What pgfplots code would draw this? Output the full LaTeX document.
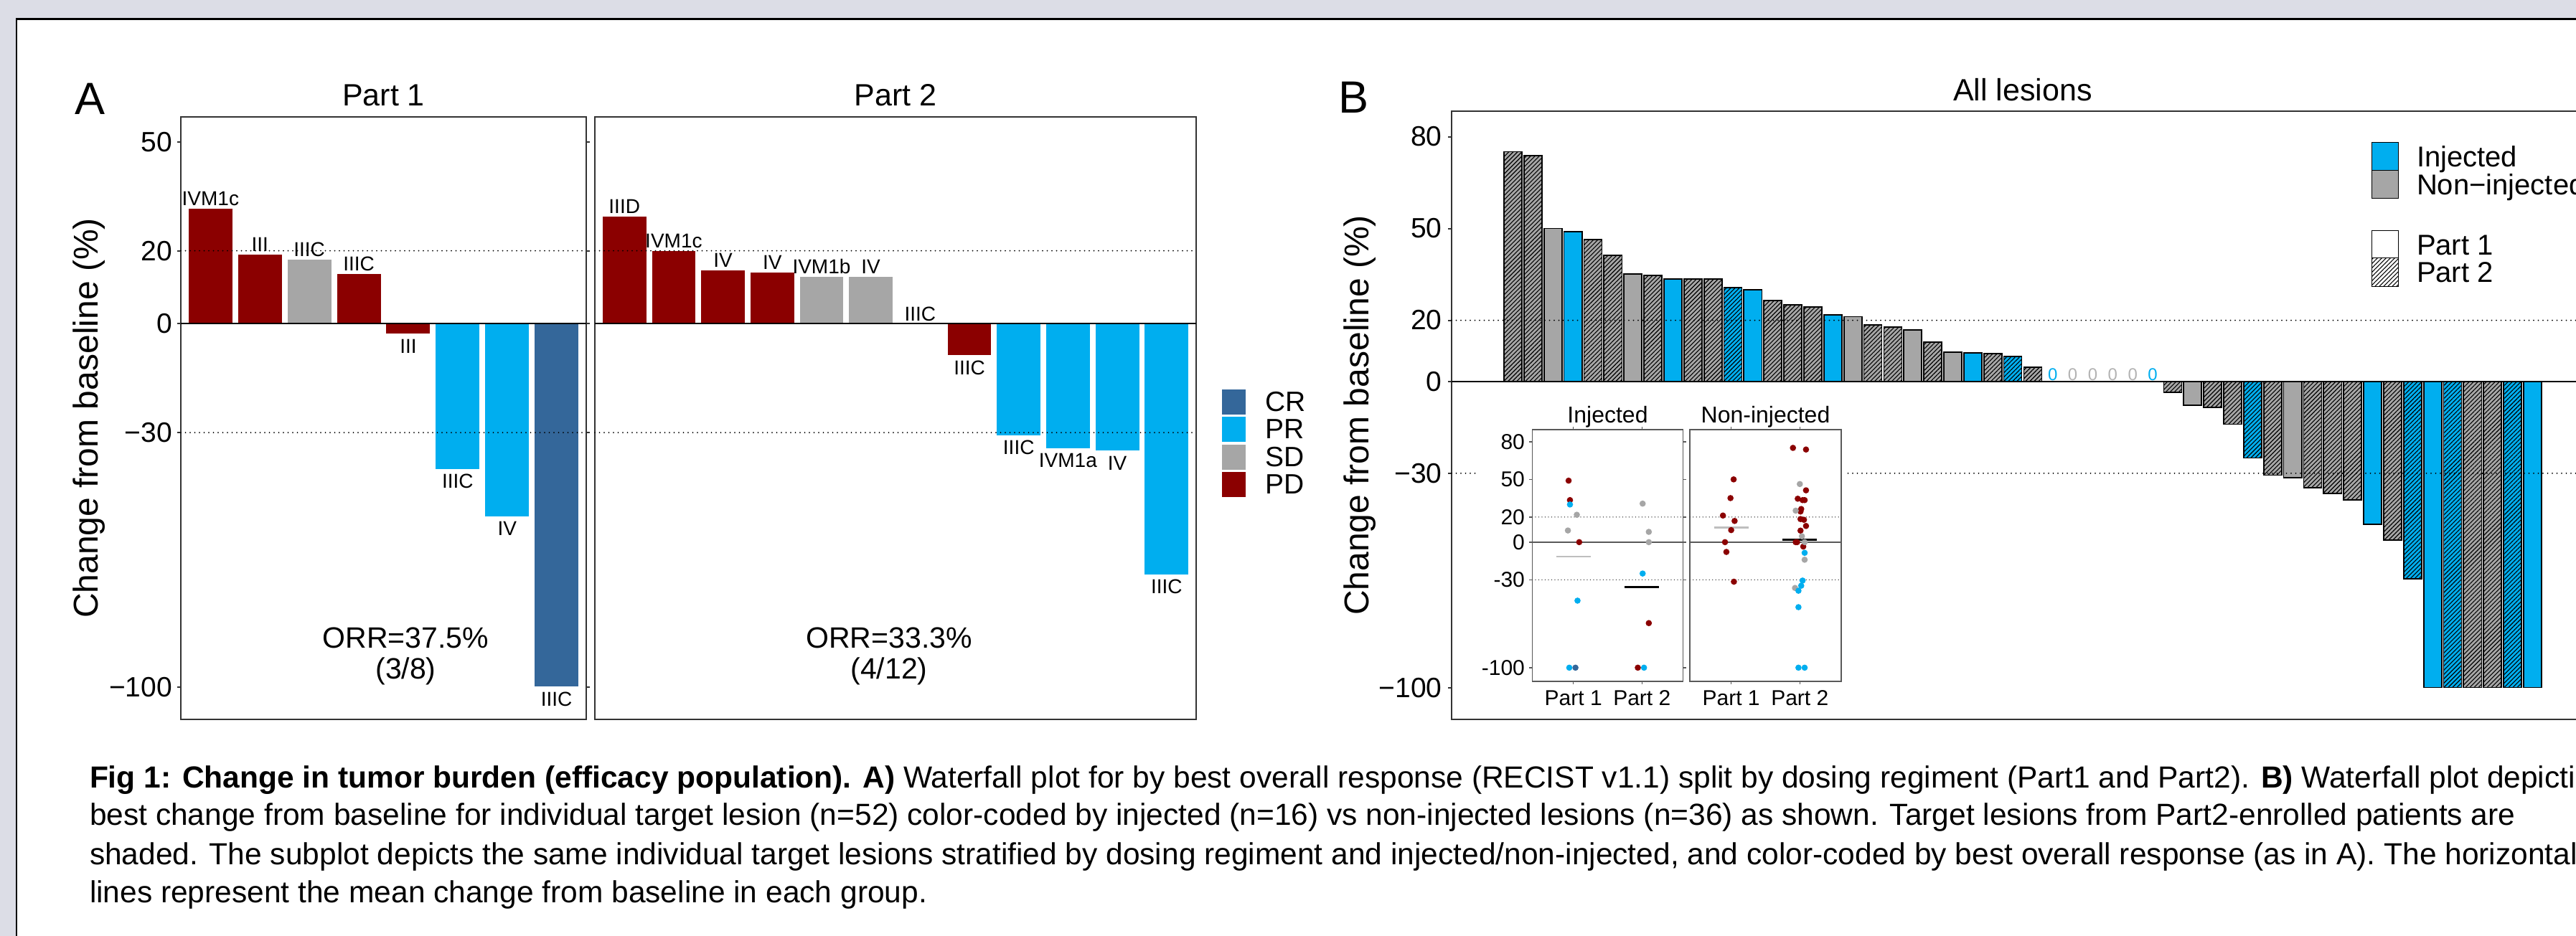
\documentclass[border=0pt]{standalone}
\usepackage{fontspec}
\setmainfont{Liberation Sans}
\usepackage{pgfplots}
\pgfplotsset{compat=1.18}
\usetikzlibrary{patterns.meta}

\definecolor{bgl}{HTML}{DCDDE6}
\definecolor{cPD}{HTML}{8B0000}
\definecolor{cSD}{HTML}{A6A6A6}
\definecolor{cPR}{HTML}{00AEEF}
\definecolor{cCR}{HTML}{34679A}
\definecolor{frm}{HTML}{333333}
\definecolor{ifrm}{HTML}{595959}
\definecolor{zgrey}{HTML}{B3B3B3}
\definecolor{mgrey}{HTML}{BEBEBE}

\newcommand{\fs}[1]{\fontsize{#1pt}{#1pt}\selectfont}

\pgfplotsset{
  /pgf/number format/assume math mode=true,
  common/.style={
    scale only axis, anchor=south west, clip=false,
    axis line style={draw=frm, line width=0.4pt},
    tick align=outside, major tick length=1pt,
    tick style={draw=frm, line width=0.4pt},
    xtick=\empty,
  },
  inset/.style={
    scale only axis, anchor=south west, clip=false,
    xmin=0.4, xmax=2.6, ymin=-110.9, ymax=89.5,
    xtick={1,2}, xticklabels={Part 1,Part 2},
    axis line style={draw=ifrm, line width=0.35pt},
    tick align=outside, major tick length=0.8pt,
    tick style={draw=ifrm, line width=0.3pt},
    xticklabel style={font=\fs{6}, inner sep=0pt, yshift=-1.5pt},
    yticklabel style={font=\fs{6}, inner sep=0pt, xshift=-1.1pt},
  },
  abar/.style={ybar, bar width=0.9, bar shift=0pt, draw=white, line width=0.2pt},
  bbar/.style={ybar, bar width=0.9, bar shift=0pt, draw=black, line width=0.35pt},
  hatch/.style={postaction={pattern={Lines[angle=45,distance=0.85pt,line width=0.22pt]}, pattern color=black}},
  dotl/.style={black, line width=0.4pt, dash pattern=on 0pt off 1.3pt, line cap=round},
  idot/.style={black!75, line width=0.3pt, dash pattern=on 0pt off 0.9pt, line cap=round},
  zl/.style={black, line width=0.45pt},
  pts/.style={only marks, mark=*, mark size=0.65pt},
}
\tikzset{
  labp/.style={anchor=base, font=\fs{5.6}, inner sep=0pt, yshift=0.8pt},
  labn/.style={anchor=north, font=\fs{5.6}, inner sep=0pt, yshift=-1.2pt},
  orr/.style={anchor=base, font=\fs{8.2}, inner sep=0pt},
  zlab/.style={anchor=base, font=\fs{4.8}, inner sep=0pt, yshift=0.3pt},
  captxt/.style={anchor=base west, inner sep=0pt, font=\fs{8.5}},
}

\begin{document}
\begin{tikzpicture}
\useasboundingbox (0,0) rectangle (718pt,261pt);
\clip (0,0) rectangle (718pt,261pt);
\fill[bgl] (0,0) rectangle (718pt,261pt);
\fill[white] (4.56pt,-5pt) rectangle (730pt,255.7pt);
\draw[black, line width=0.46pt] (4.56pt,-5pt) -- (4.56pt,255.7pt) -- (730pt,255.7pt);

% panel letters and titles
\node[anchor=base west, inner sep=0pt, font=\fs{12.6}] at (20.6pt,229pt) {A};
\node[anchor=base west, inner sep=0pt, font=\fs{12.6}] at (372.8pt,229.4pt) {B};
\node[anchor=base, inner sep=0pt, font=\fs{8.6}] at (106.9pt,231.4pt) {Part 1};
\node[anchor=base, inner sep=0pt, font=\fs{8.6}] at (249.6pt,231.4pt) {Part 2};
\node[anchor=base, inner sep=0pt, font=\fs{8.6}] at (563.8pt,232.8pt) {All lesions};
\node[anchor=base, rotate=90, inner sep=0pt, font=\fs{9.6}] at (27.2pt,144.4pt) {Change from baseline (\%)};
\node[anchor=base, rotate=90, inner sep=0pt, font=\fs{9.6}] at (381.4pt,145.2pt) {Change from baseline (\%)};

% ---------------- Panel A, Part 1
\begin{axis}[common, at={(50.4pt,60.4pt)}, width=113pt, height=168.06pt,
  xmin=0.4, xmax=8.6, ymin=-108.9, ymax=56.9,
  ytick={-100,-30,0,20,50}, yticklabels={−100,−30,0,20,50},
  yticklabel style={font=\fs{7.8}, inner sep=0pt, xshift=-1.2pt}]
\addplot[abar, fill=cPD] coordinates {(1,31.6) (2,19.0) (4,13.8) (5,-2.9)};
\addplot[abar, fill=cSD] coordinates {(3,17.6)};
\addplot[abar, fill=cPR] coordinates {(6,-40.1) (7,-53.2)};
\addplot[abar, fill=cCR] coordinates {(8,-100)};
\addplot[dotl] coordinates {(0.4,20) (8.6,20)};
\addplot[dotl] coordinates {(0.4,-30) (8.6,-30)};
\addplot[zl] coordinates {(0.4,0) (8.6,0)};
\node[labp] at (axis cs:1,31.6) {IVM1c};
\node[labp] at (axis cs:2,19.0) {III};
\node[labp] at (axis cs:3,17.6) {IIIC};
\node[labp] at (axis cs:4,13.8) {IIIC};
\node[labn] at (axis cs:5,-2.9) {III};
\node[labn] at (axis cs:6,-40.1) {IIIC};
\node[labn] at (axis cs:7,-53.2) {IV};
\node[labn] at (axis cs:8,-100) {IIIC};
\node[orr] at (axis cs:4.95,-89.2) {ORR=37.5\%};
\node[orr] at (axis cs:4.95,-97.8) {(3/8)};
\end{axis}

% ---------------- Panel A, Part 2
\begin{axis}[common, at={(165.8pt,60.4pt)}, width=167.6pt, height=168.06pt,
  xmin=0.4, xmax=12.6, ymin=-108.9, ymax=56.9, ytick=\empty]
\addplot[abar, fill=cPD] coordinates {(1,29.6) (2,20.0) (3,14.8) (4,14.2) (8,-8.8)};
\addplot[abar, fill=cSD] coordinates {(5,12.9) (6,12.9)};
\addplot[abar, fill=cPR] coordinates {(9,-30.8) (10,-34.4) (11,-35.1) (12,-69.1)};
\addplot[dotl] coordinates {(0.4,20) (12.6,20)};
\addplot[dotl] coordinates {(0.4,-30) (12.6,-30)};
\addplot[zl] coordinates {(0.4,0) (12.6,0)};
\node[labp] at (axis cs:1,29.6) {IIID};
\node[labp] at (axis cs:2,20.0) {IVM1c};
\node[labp] at (axis cs:3,14.8) {IV};
\node[labp] at (axis cs:4,14.2) {IV};
\node[labp] at (axis cs:5,12.9) {IVM1b};
\node[labp] at (axis cs:6,12.9) {IV};
\node[labp] at (axis cs:7,0) {IIIC};
\node[labn] at (axis cs:8,-8.8) {IIIC};
\node[labn] at (axis cs:9,-30.8) {IIIC};
\node[labn] at (axis cs:10,-34.4) {IVM1a};
\node[labn] at (axis cs:11,-35.1) {IV};
\node[labn] at (axis cs:12,-69.1) {IIIC};
\node[orr] at (axis cs:6.37,-89.2) {ORR=33.3\%};
\node[orr] at (axis cs:6.37,-97.8) {(4/12)};
\end{axis}

% legend A
\fill[cCR] (340.6pt,145.4pt) rectangle (347.2pt,152.4pt);
\fill[cPR] (340.6pt,137.8pt) rectangle (347.2pt,144.8pt);
\fill[cSD] (340.6pt,130.0pt) rectangle (347.2pt,137.0pt);
\fill[cPD] (340.6pt,122.4pt) rectangle (347.2pt,129.4pt);
\node[anchor=west, inner sep=0pt, font=\fs{7.8}] at (352.4pt,148.9pt) {CR};
\node[anchor=west, inner sep=0pt, font=\fs{7.8}] at (352.4pt,141.3pt) {PR};
\node[anchor=west, inner sep=0pt, font=\fs{7.8}] at (352.4pt,133.5pt) {SD};
\node[anchor=west, inner sep=0pt, font=\fs{7.8}] at (352.4pt,125.9pt) {PD};

% ---------------- Panel B
\begin{axis}[common, at={(404.6pt,60.4pt)}, width=318.4pt, height=169.66pt,
  xmin=-2.07, xmax=55.07, ymin=-110.4, ymax=88.4,
  ytick={-100,-30,0,20,50,80}, yticklabels={−100,−30,0,20,50,80},
  yticklabel style={font=\fs{7.8}, inner sep=0pt, xshift=-1.5pt}]
% Part 2, non-injected (hatched grey)
\addplot[bbar, fill=cSD, hatch] coordinates {(1,75.1) (2,73.8) (5,46.3) (6,41.3) (8,34.6) (10,33.5) (11,33.5) (14,26.4) (15,25.1) (16,24.4) (19,18.4) (20,17.8) (22,12.9) (25,9.2) (27,4.7) (34,-3.5) (36,-8.5) (37,-14.0) (39,-30.6) (41,-34.7) (42,-36.5) (43,-38.7) (45,-51.8) (49,-100) (50,-100)};
% Part 1, non-injected (solid grey)
\addplot[bbar, fill=cSD] coordinates {(3,50.0) (7,35.1) (18,21.2) (21,16.9) (23,9.6) (35,-7.8) (40,-31.5)};
% Part 1, injected (solid blue)
\addplot[bbar, fill=cPR] coordinates {(4,49.0) (9,33.5) (13,30.0) (17,21.8) (24,9.3) (44,-46.6) (47,-100) (52,-100)};
% Part 2, injected (hatched blue)
\addplot[bbar, fill=cPR, hatch] coordinates {(12,30.7) (26,8.2) (38,-25.0) (46,-64.5) (48,-100) (51,-100)};
\addplot[dotl] coordinates {(-2.07,20) (55.07,20)};
\addplot[dotl] coordinates {(-2.07,-30) (55.07,-30)};
\addplot[zl] coordinates {(-2.07,0) (55.07,0)};
\node[zlab, text=cPR] at (axis cs:28,0) {0};
\node[zlab, text=zgrey] at (axis cs:29,0) {0};
\node[zlab, text=zgrey] at (axis cs:30,0) {0};
\node[zlab, text=zgrey] at (axis cs:31,0) {0};
\node[zlab, text=zgrey] at (axis cs:32,0) {0};
\node[zlab, text=cPR] at (axis cs:33,0) {0};
\end{axis}

% legend B
\draw[black, line width=0.2pt, fill=cPR] (661pt,213.4pt) rectangle (668.4pt,221.2pt);
\draw[black, line width=0.2pt, fill=cSD] (661pt,205.6pt) rectangle (668.4pt,213.4pt);
\draw[black, line width=0.2pt, fill=white] (661pt,189pt) rectangle (668.4pt,196.6pt);
\draw[black, line width=0.2pt, fill=white, postaction={pattern={Lines[angle=45,distance=0.85pt,line width=0.22pt]}, pattern color=black}] (661pt,181pt) rectangle (668.4pt,189pt);
\node[anchor=base west, inner sep=0pt, font=\fs{8}] at (673.4pt,214.4pt) {Injected};
\node[anchor=base west, inner sep=0pt, font=\fs{8}] at (673.4pt,206.6pt) {Non−injected};
\node[anchor=base west, inner sep=0pt, font=\fs{8}] at (673.4pt,189.8pt) {Part 1};
\node[anchor=base west, inner sep=0pt, font=\fs{8}] at (673.4pt,182.2pt) {Part 2};

% ---------------- Inset
\fill[white] (412.2pt,62pt) rectangle (514.8pt,151.4pt);
\node[anchor=base, inner sep=0pt, font=\fs{6.4}] at (448.1pt,143pt) {Injected};
\node[anchor=base, inner sep=0pt, font=\fs{6.4}] at (492.1pt,143pt) {Non-injected};

\begin{axis}[inset, at={(427.08pt,71pt)}, width=42.04pt, height=70.14pt,
  ytick={-100,-30,0,20,50,80}, yticklabels={-100,-30,0,20,50,80}]
\addplot[idot] coordinates {(0.4,20) (2.6,20)};
\addplot[idot] coordinates {(0.4,-30) (2.6,-30)};
\addplot[ifrm, line width=0.4pt] coordinates {(0.4,0) (2.6,0)};
\addplot[pts, cPD] coordinates {(0.93,49.0) (0.95,33.5) (1.085,0) (2.10,-64.5) (1.94,-100)};
\addplot[pts, cSD] coordinates {(1.05,21.8) (0.92,9.3) (2.01,30.7) (2.10,8.2) (2.10,0)};
\addplot[pts, cPR] coordinates {(0.95,30.0) (1.06,-46.6) (0.94,-100) (2.01,-25.0) (2.03,-100)};
\addplot[pts, cCR] coordinates {(1.03,-100)};
\addplot[mgrey, line width=0.55pt] coordinates {(0.75,-11.5) (1.25,-11.5)};
\addplot[black, line width=0.55pt] coordinates {(1.75,-35.8) (2.25,-35.8)};
\end{axis}

\begin{axis}[inset, at={(471.04pt,71pt)}, width=42.1pt, height=70.14pt, ytick=\empty]
\addplot[idot] coordinates {(0.4,20) (2.6,20)};
\addplot[idot] coordinates {(0.4,-30) (2.6,-30)};
\addplot[ifrm, line width=0.4pt] coordinates {(0.4,0) (2.6,0)};
\addplot[pts, cPD] coordinates {(1.036,50.0) (0.99,35.1) (0.88,21.2) (1.05,16.9) (1.0,9.6) (0.91,0) (0.93,-7.8) (1.04,-31.5)
  (1.90,75.1) (2.09,73.8) (2.09,41.3) (1.97,34.6) (2.04,33.5) (2.07,33.5) (2.02,26.4) (2.01,24.4) (2.01,18.4) (2.06,17.8) (2.09,12.9) (2.01,9.2) (1.94,0) (1.96,0) (2.05,-3.5)};
\addplot[pts, cSD] coordinates {(2.0,46.3) (1.94,25.1) (2.03,4.7) (2.07,0) (2.07,-14.0) (1.93,-36.5)};
\addplot[pts, cPR] coordinates {(2.07,-8.5) (2.04,-30.6) (2.02,-34.7) (1.98,-38.7) (1.98,-51.8) (1.98,-100) (2.07,-100)};
\addplot[mgrey, line width=0.55pt] coordinates {(0.75,11.7) (1.25,11.7)};
\addplot[black, line width=0.55pt] coordinates {(1.75,2.1) (2.25,2.1)};
\end{axis}

% ---------------- Caption
\node[captxt] at (24.8pt,41.2pt) {\textbf{Fig 1: Change in tumor burden (efficacy population). A)} Waterfall plot for by best overall response (RECIST v1.1) split by dosing regiment (Part1 and Part2). \textbf{B)} Waterfall plot depicting the};
\node[captxt] at (24.8pt,30.8pt) {best change from baseline for individual target lesion (n=52) color-coded by injected (n=16) vs non-injected lesions (n=36) as shown. Target lesions from Part2-enrolled patients are};
\node[captxt] at (24.8pt,19.8pt) {shaded. The subplot depicts the same individual target lesions stratified by dosing regiment and injected/non-injected, and color-coded by best overall response (as in A). The horizontal};
\node[captxt] at (24.8pt,9.2pt) {lines represent the mean change from baseline in each group.};
\end{tikzpicture}
\end{document}
